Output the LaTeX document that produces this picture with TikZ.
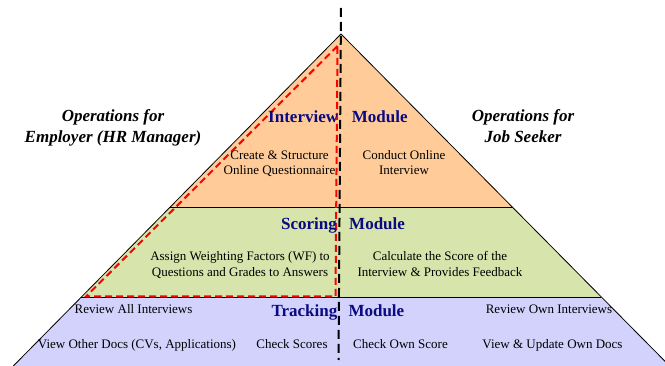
\documentclass[tikz,border=0pt]{standalone}
\usepackage{fontspec}
\setmainfont{Liberation Serif}
\definecolor{bandorange}{RGB}{255,204,153}
\definecolor{bandgreen}{RGB}{215,228,172}
\definecolor{bandpurple}{RGB}{210,210,252}
\definecolor{modblue}{RGB}{10,10,130}
\begin{document}
\begin{tikzpicture}[x=1pt,y=-1pt,
  edgeline/.style={draw=black, line width=0.8pt},
  modlbl/.style={font=\fontsize{17}{20}\selectfont\bfseries, text=modblue, inner sep=0pt},
  optxt/.style={font=\fontsize{13}{15.5}\selectfont, inner sep=0pt, align=center, anchor=base},
  rolelbl/.style={font=\fontsize{17}{21}\selectfont\bfseries\itshape, inner sep=0pt, align=center, anchor=base},
  axisdash/.style={line width=2pt, dash pattern=on 9pt off 5pt},
  reddash/.style={draw=red, line width=2pt, dash pattern=on 7pt off 4pt}]
\useasboundingbox (0,0) rectangle (665,366);
% corners
\coordinate (apex) at (341,34);
\coordinate (l1) at (170.2,207);
\coordinate (r1) at (512.3,207);
\coordinate (l2) at (81.4,297);
\coordinate (r2) at (601.4,297);
\coordinate (l3) at (13.3,366);
\coordinate (r3) at (669.7,366);
% bands
\fill[bandpurple] (l2) -- (r2) -- (r3) -- (l3) -- cycle;
\fill[bandgreen] (l1) -- (r1) -- (r2) -- (l2) -- cycle;
\fill[bandorange] (apex) -- (r1) -- (l1) -- cycle;
% outlines
\draw[edgeline] (apex) -- (l3);
\draw[edgeline] (apex) -- (r3);
\draw[edgeline] (l1) -- (r1);
\draw[edgeline] (l2) -- (r2);
% red dashed triangle
\coordinate (rt) at (337.5,46);
\coordinate (rl) at (86,296.5);
\coordinate (rr) at (335.5,296.5);
\draw[reddash] (rt) -- (rl) -- (rr) -- cycle;
% black dashed axis
\coordinate (at) at (341,8);
\coordinate (ab) at (338.5,360);
\draw[axisdash] (at) -- (ab);
% module labels
\node[modlbl, anchor=base east] (intA) at (338.3,122.3) {Interview};
\node[modlbl, anchor=base west] (intB) at (351.7,122.3) {Module};
\node[modlbl, anchor=base east] (scoA) at (337,229.8) {Scoring};
\node[modlbl, anchor=base west] (scoB) at (349,229.8) {Module};
\node[modlbl, anchor=base east] (traA) at (337.5,317) {Tracking};
\node[modlbl, anchor=base west] (traB) at (348.3,317) {Module};
% role labels (anchor = baseline of last line)
\node[rolelbl] (empl) at (113,143) {Operations for\\Employer (HR Manager)};
\node[rolelbl] (seek) at (523,143) {Operations for\\Job Seeker};
% operations
\node[optxt] (create) at (279.5,175) {Create \& Structure\\Online Questionnaire};
\node[optxt] (conduct) at (404,175) {Conduct Online\\Interview};
\node[optxt] (assign) at (240,276.5) {Assign Weighting Factors (WF) to\\Questions and Grades to Answers};
\node[optxt] (calc) at (440,276.5) {Calculate the Score of the\\Interview \& Provides Feedback};
\node[optxt] (revall) at (133.5,313.3) {Review All Interviews};
\node[optxt] (viewoth) at (137,349) {View Other Docs (CVs, Applications)};
\node[optxt] (chk) at (292,349) {Check Scores};
\node[optxt] (revown) at (549,313.3) {Review Own Interviews};
\node[optxt] (chkown) at (400.5,349) {Check Own Score};
\node[optxt] (viewown) at (552.5,349) {View \& Update Own Docs};
\end{tikzpicture}
\end{document}
